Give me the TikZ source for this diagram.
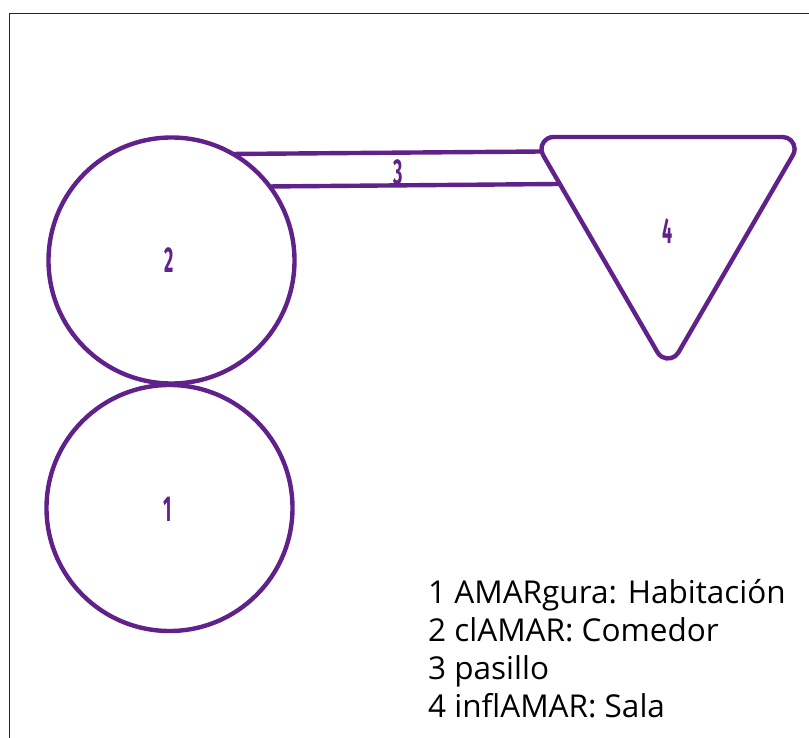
\documentclass[tikz,border=0pt]{standalone}
\usepackage{fontspec}
\setmainfont{Open Sans}
\newfontfamily\digitfont{Fira Sans}[BoldFont={Fira Sans Bold}]
\definecolor{roompurple}{RGB}{96,34,138}
\tikzset{
  roomline/.style={draw=roompurple,line width=4.4pt},
  roomcircle/.style={roomline,circle,minimum size=246pt,inner sep=0pt,outer sep=0pt},
  digit/.style={text=roompurple,font=\digitfont\bfseries\fontsize{36}{36}\selectfont,inner sep=0pt},
  legend/.style={anchor=base west,inner sep=0pt,font=\fontsize{31.5}{38}\selectfont,text=black},
  frameline/.style={draw=black!85,line width=1pt}
}
\begin{document}
\begin{tikzpicture}[x=1pt,y=-1pt]
\useasboundingbox (0,0) rectangle (809,738);
\draw[frameline] (9.5,738) -- (9.5,13.5) -- (809,13.5);
\node[roomcircle] (r2) at (171.5,260.5) {};
\node[roomcircle] (r1) at (169.5,508) {};
\draw[roomline,line join=round] (553.4,137) -- (782.6,137)
  arc[start angle=90,end angle=-30,radius=12pt]
  -- (678.4,352.5)
  arc[start angle=-30,end angle=-150,radius=12pt]
  -- (543,155)
  arc[start angle=210,end angle=90,radius=12pt] -- cycle;
\coordinate (h1) at (541.5,151.5);
\coordinate (h2) at (558.5,184);
\draw[roomline] (r2.60) -- (h1);
\draw[roomline] (r2.37) -- (h2);
\node[digit] (d2) at (169.5,260.5) {\scalebox{.5}[1]{2}};
\node[digit] (d1) at (168,509) {\scalebox{.5}[1]{1}};
\node[digit] (d3) at (398,172) {\scalebox{.5}[1]{3}};
\node[digit] (d4) at (668,231) {\scalebox{.5}[1]{4}};
\node[legend] (l1) at (428,603) {1 AMARgura: Habitación};
\node[legend] (l2) at (428,641) {2 clAMAR: Comedor};
\node[legend] (l3) at (428,679) {3 pasillo};
\node[legend] (l4) at (428,717) {4 inflAMAR: Sala};
\end{tikzpicture}
\end{document}
